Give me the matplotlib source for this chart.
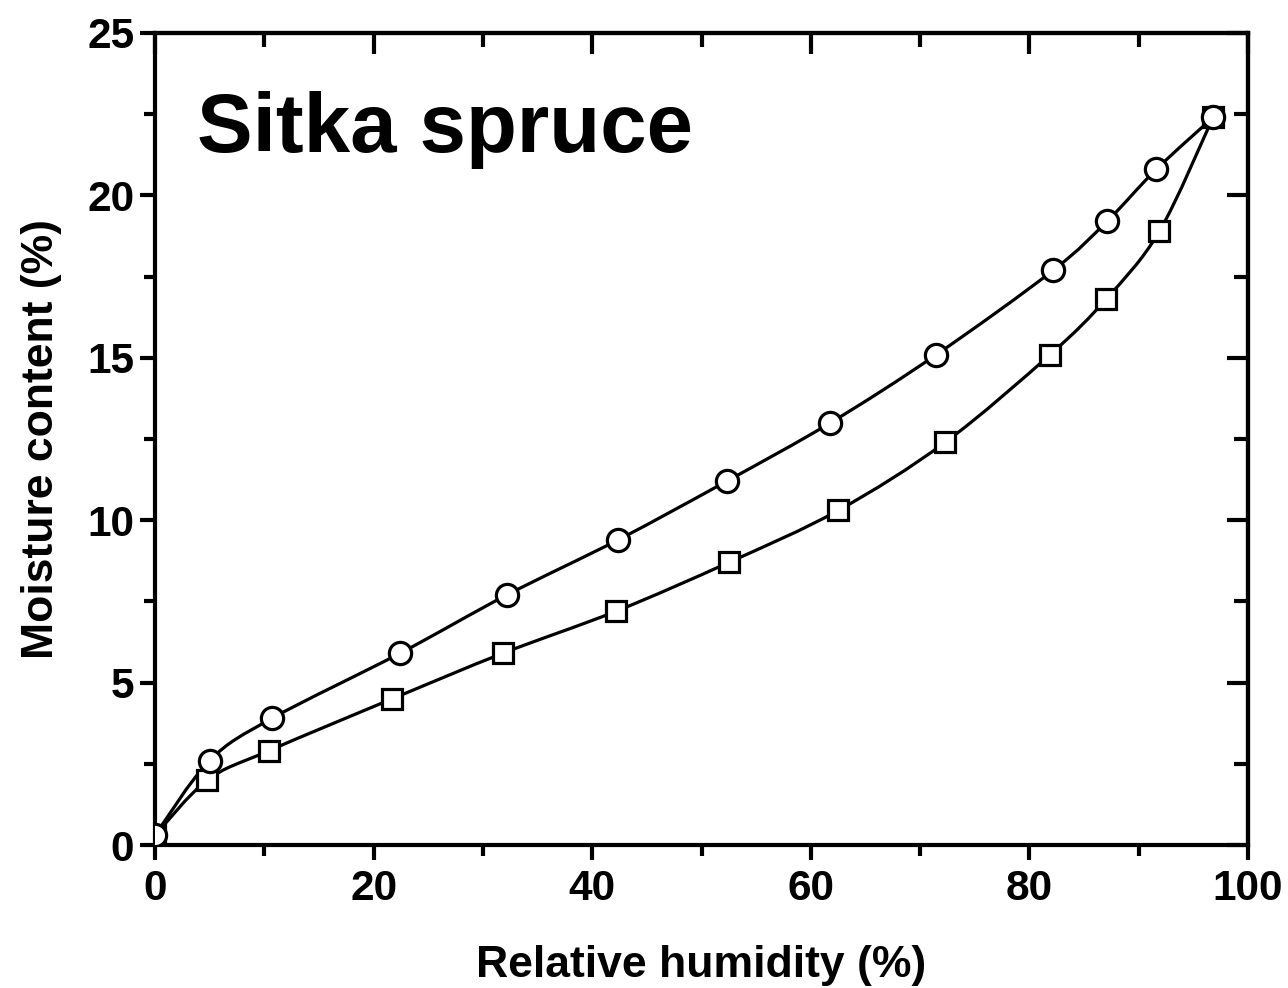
import matplotlib
matplotlib.use("Agg")
import matplotlib.pyplot as plt
import numpy as np
from matplotlib.path import Path
from matplotlib.patches import PathPatch
from matplotlib.ticker import MultipleLocator

plt.rcParams['font.family'] = ['Liberation Sans', 'DejaVu Sans']
plt.rcParams['font.weight'] = 'bold'

# Desorption (circles)
rh_des = [0.0, 5.0, 10.7, 22.4, 32.2, 42.4, 52.3, 61.8, 71.5, 82.2, 87.1, 91.6, 96.8]
mc_des = [0.3, 2.6, 3.9, 5.9, 7.7, 9.4, 11.2, 13.0, 15.1, 17.7, 19.2, 20.8, 22.4]
# Adsorption (squares)
rh_ads = [0.0, 4.8, 10.4, 21.7, 31.8, 42.2, 52.5, 62.5, 72.3, 81.9, 87.0, 91.9, 96.8]
mc_ads = [0.3, 2.0, 2.9, 4.5, 5.9, 7.2, 8.7, 10.3, 12.4, 15.1, 16.8, 18.9, 22.4]

title = "Sitka spruce"
xlabel = "Relative humidity (%)"
ylabel = "Moisture content (%)"


def smooth_path(x, y):
    # Catmull-Rom curve through the data points, drawn as cubic Bezier segments
    p = np.column_stack([x, y]).astype(float)
    n = len(p)
    verts = [p[0]]
    codes = [Path.MOVETO]
    for i in range(n - 1):
        p0 = p[i - 1] if i > 0 else p[i]
        p1 = p[i]
        p2 = p[i + 1]
        p3 = p[i + 2] if i + 2 < n else p[i + 1]
        c1 = p1 + (p2 - p0) / 6.0
        c2 = p2 - (p3 - p1) / 6.0
        verts += [c1, c2, p2]
        codes += [Path.CURVE4] * 3
    return Path(verts, codes)


fig = plt.figure(figsize=(12.88, 9.88), dpi=100)
ax = fig.add_axes([155 / 1288, 1 - 845 / 988, (1248 - 155) / 1288, (845 - 33) / 988])

for xs, ys in [(rh_ads, mc_ads), (rh_des, mc_des)]:
    ax.add_patch(PathPatch(smooth_path(xs, ys), fill=False, lw=2.3, ec='black', zorder=2))

ax.plot(rh_ads, mc_ads, ls='none', marker='s', ms=14.4, mfc='white', mec='black', mew=2.3, zorder=3)
ax.plot(rh_des, mc_des, ls='none', marker='o', ms=16.0, mfc='white', mec='black', mew=2.3, zorder=4)

ax.set_xlim(0, 100)
ax.set_ylim(0, 25)
ax.xaxis.set_major_locator(MultipleLocator(20))
ax.xaxis.set_minor_locator(MultipleLocator(10))
ax.yaxis.set_major_locator(MultipleLocator(5))
ax.yaxis.set_minor_locator(MultipleLocator(2.5))

for s in ax.spines.values():
    s.set_linewidth(3)

ax.tick_params(which='both', direction='out', width=3, labelsize=30.5, top=False, right=False)
ax.tick_params(which='major', length=11)
ax.tick_params(which='minor', length=8)
ax.tick_params(axis='x', pad=6)
ax.tick_params(axis='y', pad=4)

# inward ticks on top and right
ax2 = ax.secondary_xaxis('top')
ax2.xaxis.set_major_locator(MultipleLocator(20))
ax2.xaxis.set_minor_locator(MultipleLocator(10))
ax2.tick_params(which='both', direction='in', width=3, labeltop=False)
ax2.tick_params(which='major', length=15)
ax2.tick_params(which='minor', length=10)
ax2.spines['top'].set_linewidth(3)
ax3 = ax.secondary_yaxis('right')
ax3.yaxis.set_major_locator(MultipleLocator(5))
ax3.yaxis.set_minor_locator(MultipleLocator(2.5))
ax3.tick_params(which='both', direction='in', width=3, labelright=False)
ax3.tick_params(which='major', length=15)
ax3.tick_params(which='minor', length=10)
ax3.spines['right'].set_linewidth(3)

for lbl in ax.get_xticklabels() + ax.get_yticklabels():
    lbl.set_fontweight('bold')

ax.set_xlabel(xlabel, fontsize=32, fontweight='bold', labelpad=26)
ax.set_ylabel(ylabel, fontsize=32, fontweight='bold', labelpad=18)

ax.text(0.038, 0.88, title, transform=ax.transAxes, fontsize=60, fontweight='bold',
        ha='left', va='center')

fig.savefig("out.png", dpi=100)
